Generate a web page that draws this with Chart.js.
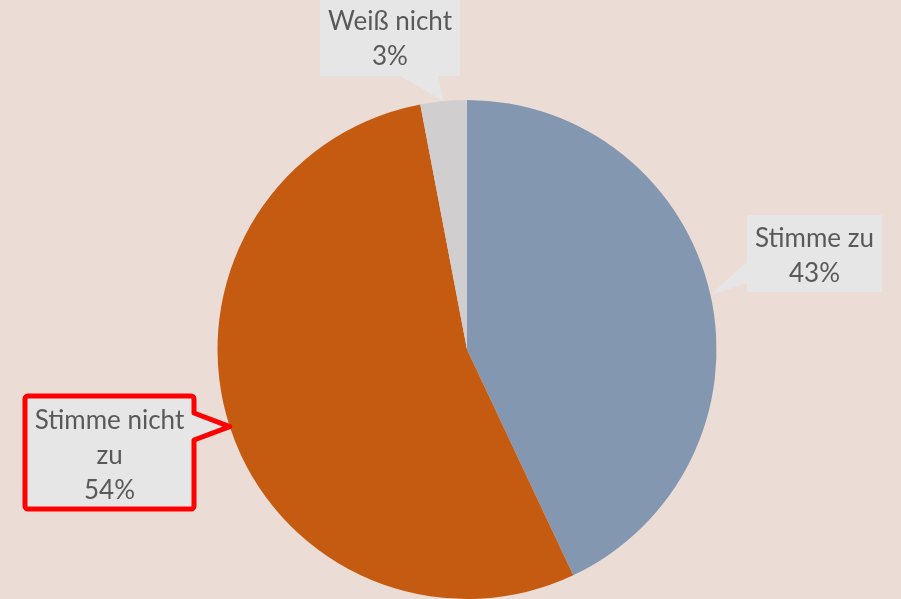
<!DOCTYPE html>
<html>
<head>
<meta charset="utf-8">
<script src="https://cdn.jsdelivr.net/npm/chart.js@4/dist/chart.umd.min.js"></script>
<style>
  html, body { margin: 0; padding: 0; background: #EBDDD6; }
  #wrap { width: 901px; height: 599px; position: relative; }
</style>
</head>
<body>
<div id="wrap"><canvas id="pieChart"></canvas></div>
<script>
const categories = ['Stimme zu', 'Stimme nicht zu', 'Weiß nicht'];
const shares = [43, 54, 3];
const sliceColors = ['#8497B0', '#C55A11', '#D0CECE'];
// label text as lines (the middle label wraps)
const labelLines = [['Stimme zu', '43%'], ['Stimme nicht', 'zu', '54%'], ['Weiß nicht', '3%']];

// callout boxes: box rect, side of the pointer and where it leaves the box
const callouts = [
    { x: 747, y: 215, w: 135, h: 77, side: 'left', from: 262, to: 283 },
    { x: 25, y: 396, w: 169, h: 113, side: 'right', from: 413, to: 440, outline: '#FF0000' },
    { x: 320, y: -4, w: 140, h: 80, side: 'bottom', from: 400, to: 438 }
];

const FONT = 'Lato, sans-serif';

function calloutPath(ctx, c, tip) {
    const r = c.outline ? 3 : 0;
    const x0 = c.x, y0 = c.y, x1 = c.x + c.w, y1 = c.y + c.h;
    ctx.beginPath();
    ctx.moveTo(x0 + r, y0);
    ctx.lineTo(x1 - r, y0);
    ctx.arcTo(x1, y0, x1, y0 + r, r);
    if (c.side === 'right') {
        ctx.lineTo(x1, c.from);
        ctx.lineTo(tip.x, tip.y);
        ctx.lineTo(x1, c.to);
    }
    ctx.lineTo(x1, y1 - r);
    ctx.arcTo(x1, y1, x1 - r, y1, r);
    if (c.side === 'bottom') {
        ctx.lineTo(c.to, y1);
        ctx.lineTo(tip.x, tip.y);
        ctx.lineTo(c.from, y1);
    }
    ctx.lineTo(x0 + r, y1);
    ctx.arcTo(x0, y1, x0, y1 - r, r);
    if (c.side === 'left') {
        ctx.lineTo(x0, c.to);
        ctx.lineTo(tip.x, tip.y);
        ctx.lineTo(x0, c.from);
    }
    ctx.lineTo(x0, y0 + r);
    ctx.arcTo(x0, y0, x0 + r, y0, r);
    ctx.closePath();
}

const calloutPlugin = {
    id: 'callouts',
    afterDatasetsDraw(chart) {
        const ctx = chart.ctx;
        const arcs = chart.getDatasetMeta(0).data;
        arcs.forEach((arc, i) => {
            const c = callouts[i];
            const mid = (arc.startAngle + arc.endAngle) / 2;
            const tip = {
                x: arc.x + Math.cos(mid) * arc.outerRadius,
                y: arc.y + Math.sin(mid) * arc.outerRadius
            };
            ctx.save();
            calloutPath(ctx, c, tip);
            ctx.fillStyle = '#E7E6E6';
            ctx.fill();
            if (c.outline) {
                ctx.lineWidth = 5;
                ctx.lineJoin = 'round';
                ctx.strokeStyle = c.outline;
                ctx.stroke();
            }
            const lines = labelLines[i];
            const lh = 35;
            const cx = c.x + c.w / 2;
            const cy = c.y + c.h / 2 + 3;
            ctx.fillStyle = '#595959';
            ctx.font = '26px ' + FONT;
            ctx.textAlign = 'center';
            ctx.textBaseline = 'middle';
            lines.forEach((t, k) => {
                ctx.fillText(t, cx, cy + (k - (lines.length - 1) / 2) * lh);
            });
            ctx.restore();
        });
    }
};

new Chart(document.getElementById('pieChart'), {
    type: 'pie',
    data: {
        labels: categories,
        datasets: [{
            data: shares,
            backgroundColor: sliceColors,
            borderWidth: 0
        }]
    },
    options: {
        responsive: true,
        maintainAspectRatio: false,
        animation: false,
        layout: { padding: { top: 100, left: 33, right: 0, bottom: 0 } },
        plugins: {
            legend: { display: false },
            tooltip: { enabled: false }
        }
    },
    plugins: [calloutPlugin]
});
</script>
</body>
</html>
